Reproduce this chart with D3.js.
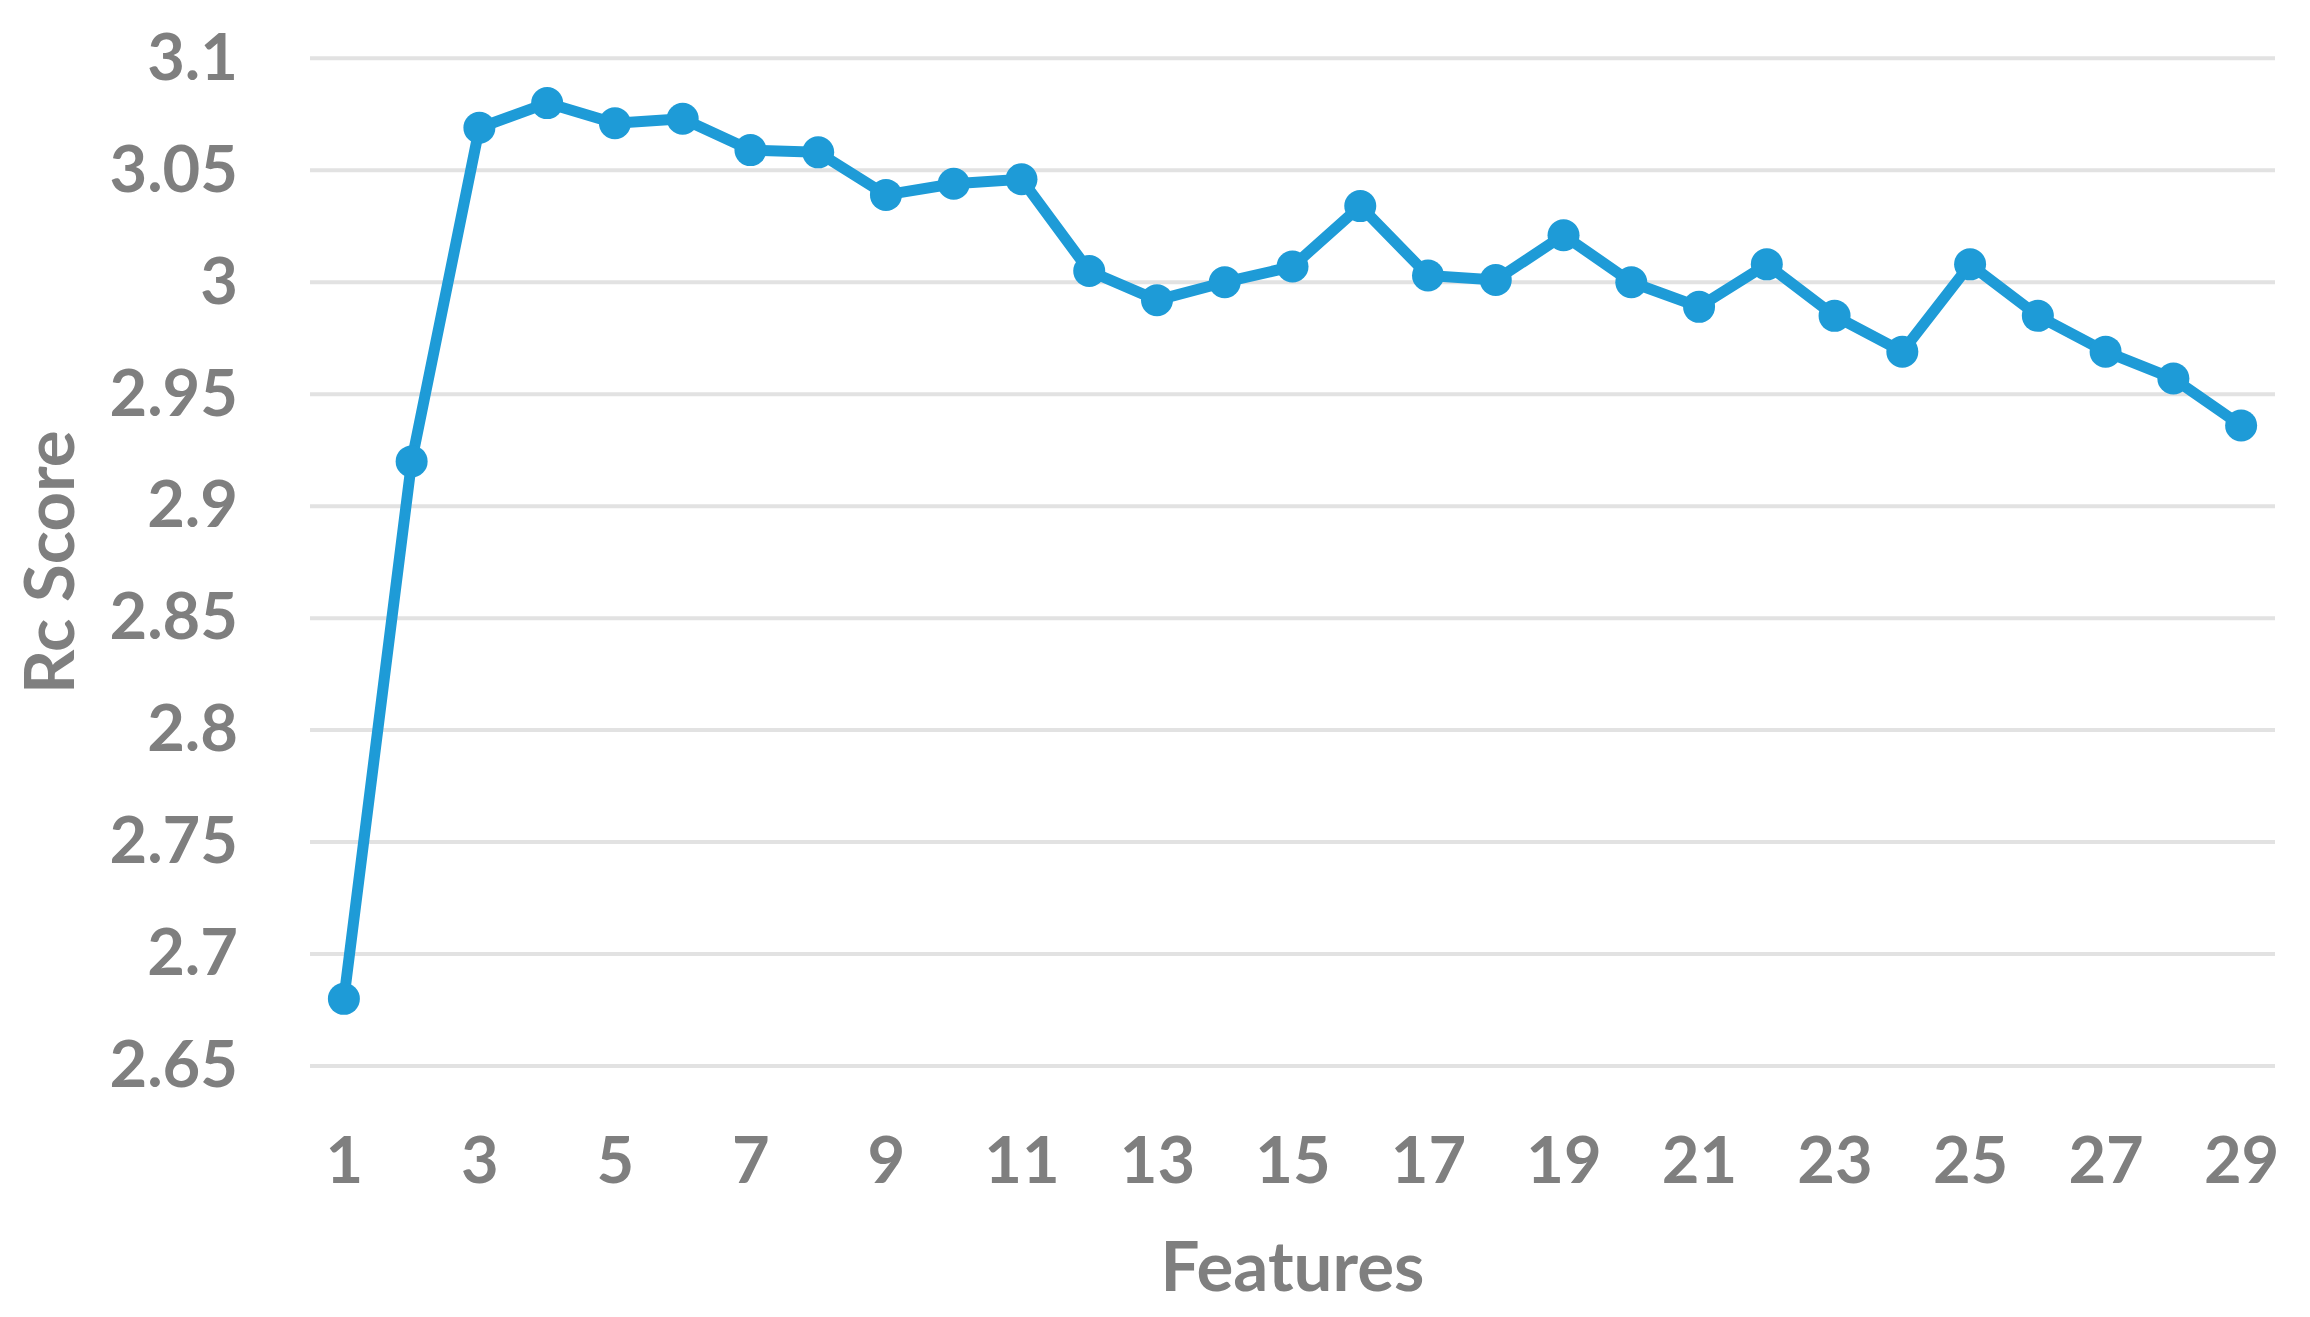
<!DOCTYPE html>
<html>
<head>
<meta charset="utf-8">
<script src="https://cdn.jsdelivr.net/npm/d3@7"></script>
<style>
  body { margin: 0; background: #fff; }
  text { font-family: Lato, "Open Sans", sans-serif; font-weight: bold; fill: #7f7f7f; }
</style>
</head>
<body>
<div id="chart-area"></div>
<script>
// values
const features = d3.range(1, 30)
const rcScore = [2.680, 2.920, 3.069, 3.080, 3.071, 3.073, 3.059, 3.058, 3.039, 3.044,
	3.046, 3.005, 2.992, 3.000, 3.007, 3.034, 3.003, 3.001, 3.021, 3.000,
	2.989, 3.008, 2.985, 2.969, 3.008, 2.985, 2.969, 2.957, 2.936]
const yTicks = [2.65, 2.7, 2.75, 2.8, 2.85, 2.9, 2.95, 3, 3.05, 3.1]
const yTickLabels = ["2.65", "2.7", "2.75", "2.8", "2.85", "2.9", "2.95", "3", "3.05", "3.1"]
const xTicks = [1, 3, 5, 7, 9, 11, 13, 15, 17, 19, 21, 23, 25, 27, 29]

const W = 2310
const H = 1317
const PLOT = {LEFT:310, RIGHT:2275, TOP:58.3, BOTTOM:1066}
const BLUE = "#1e9bd7"

const svg = d3.select("#chart-area").append("svg")
	.attr("width", W)
	.attr("height", H)

const x = d3.scalePoint()
	.domain(features)
	.range([PLOT.LEFT, PLOT.RIGHT])
	.padding(0.5)

const y = d3.scaleLinear()
	.domain([2.65, 3.1])
	.range([PLOT.BOTTOM, PLOT.TOP])

// horizontal gridlines
svg.append("g")
	.selectAll("line")
	.data(yTicks)
	.join("line")
	.attr("x1", PLOT.LEFT)
	.attr("x2", PLOT.RIGHT)
	.attr("y1", d => y(d))
	.attr("y2", d => y(d))
	.attr("stroke", "#e2e2e2")
	.attr("stroke-width", 4)

const yAxisCall = d3.axisLeft(y)
	.tickValues(yTicks)
	.tickFormat((d, i) => yTickLabels[i])
	.tickSize(0)
	.tickPadding(72)

const yAxisGroup = svg.append("g")
	.attr("transform", `translate(${PLOT.LEFT},0)`)
	.call(yAxisCall)
yAxisGroup.select(".domain").remove()
yAxisGroup.selectAll("text")
	.attr("font-size", "65px")
	.attr("font-family", null)

const xAxisCall = d3.axisBottom(x)
	.tickValues(xTicks)
	.tickSize(0)
	.tickPadding(71)

const xAxisGroup = svg.append("g")
	.attr("transform", `translate(0,${PLOT.BOTTOM})`)
	.call(xAxisCall)
xAxisGroup.select(".domain").remove()
xAxisGroup.selectAll("text")
	.attr("font-size", "65px")
	.attr("font-family", null)

// axis titles
svg.append("text")
	.attr("x", (PLOT.LEFT + PLOT.RIGHT) / 2)
	.attr("y", 1291)
	.attr("font-size", "69px")
	.attr("text-anchor", "middle")
	.text("Features")

svg.append("text")
	.attr("transform", `translate(74,${(PLOT.TOP + PLOT.BOTTOM) / 2}) rotate(-90)`)
	.attr("font-size", "69px")
	.attr("text-anchor", "middle")
	.text("Rc Score")

// series line + markers
const line = d3.line()
	.x((d, i) => x(features[i]))
	.y(d => y(d))

svg.append("path")
	.datum(rcScore)
	.attr("d", line)
	.attr("fill", "none")
	.attr("stroke", BLUE)
	.attr("stroke-width", 11)
	.attr("stroke-linejoin", "round")

svg.append("g")
	.selectAll("circle")
	.data(rcScore)
	.join("circle")
	.attr("cx", (d, i) => x(features[i]))
	.attr("cy", d => y(d))
	.attr("r", 16)
	.attr("fill", BLUE)
</script>
</body>
</html>
